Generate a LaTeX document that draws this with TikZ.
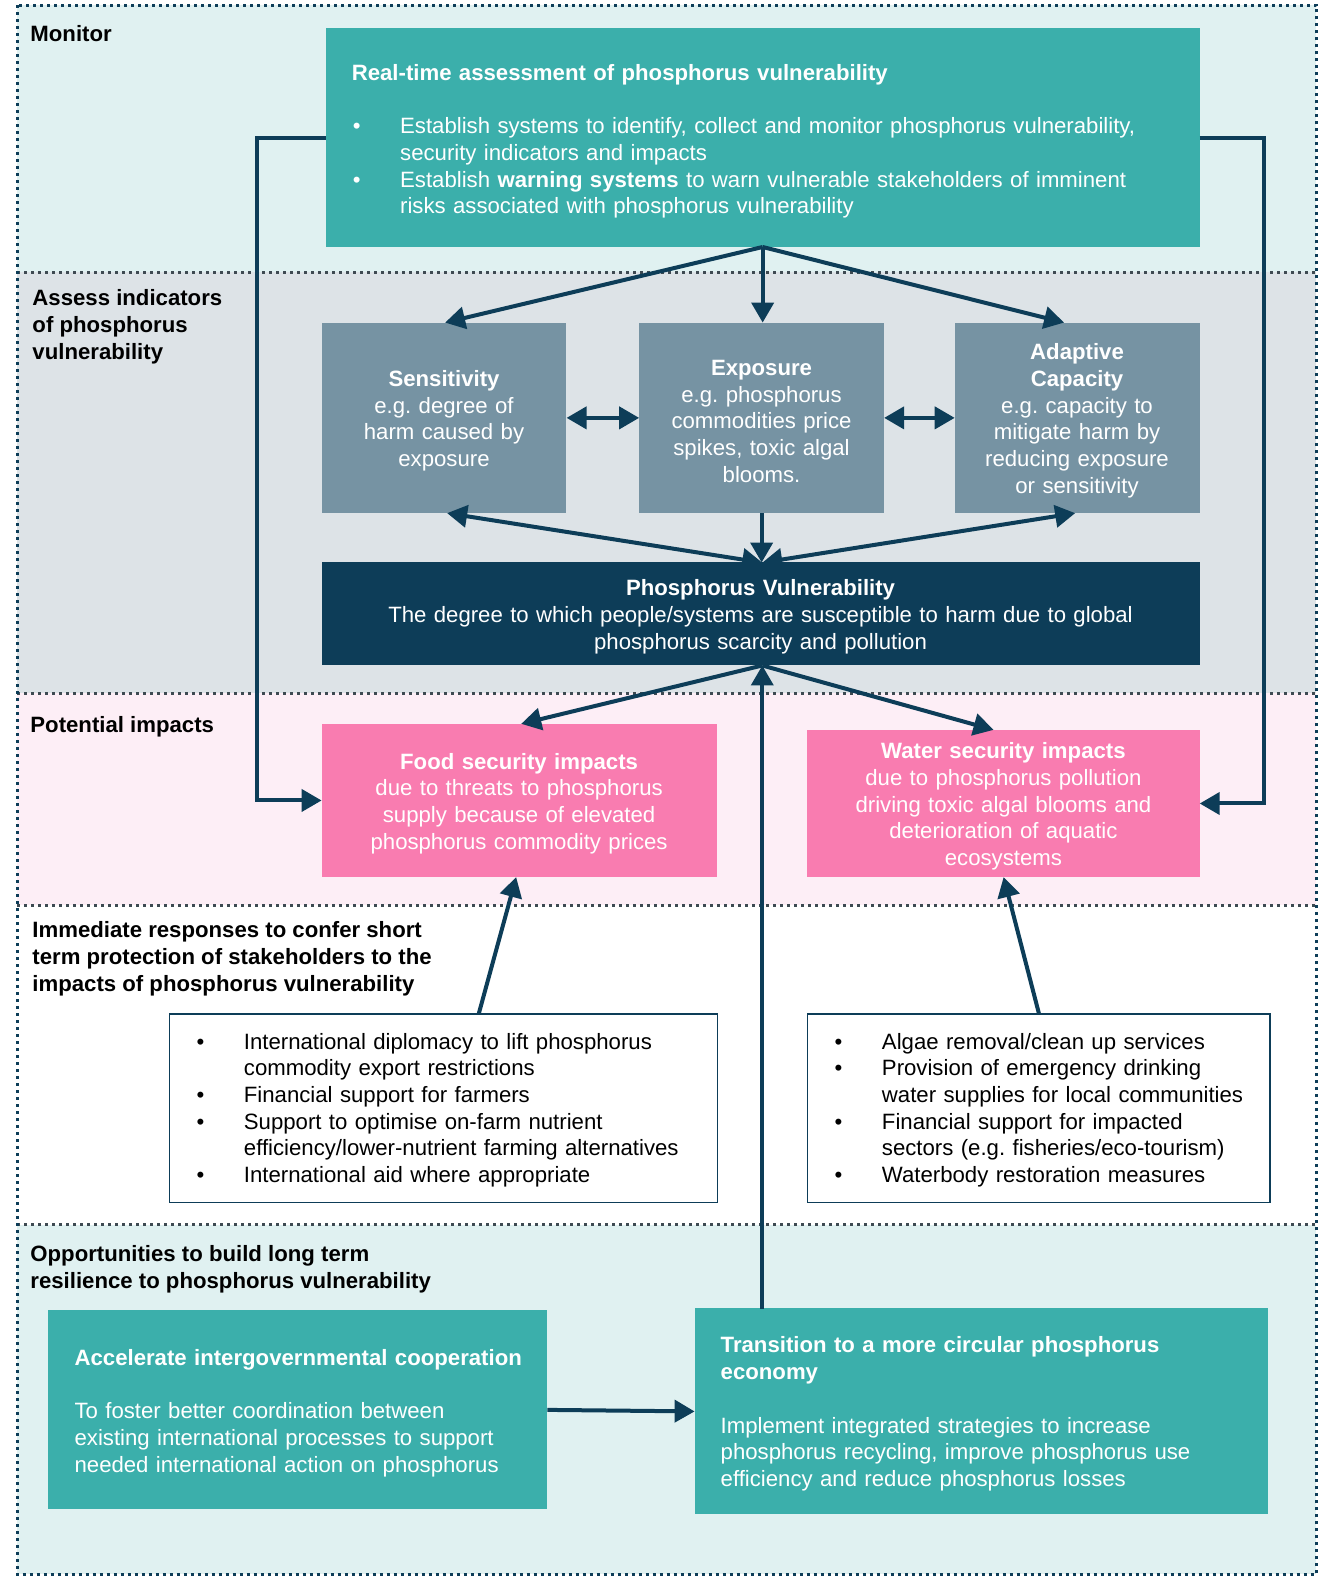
\documentclass[tikz,border=0pt]{standalone}
\usepackage{fontspec}
\setmainfont{Liberation Sans}
\usetikzlibrary{arrows.meta,calc}
\frenchspacing
\definecolor{cTeal}{HTML}{3BAFAB}
\definecolor{cBgCyan}{HTML}{E0F1F1}
\definecolor{cBgGray}{HTML}{DDE3E7}
\definecolor{cBgPink}{HTML}{FDEEF6}
\definecolor{cSlate}{HTML}{7693A3}
\definecolor{cNavy}{HTML}{0D3D58}
\definecolor{cPink}{HTML}{F97CB0}
\definecolor{cSep}{HTML}{3E4A52}
\newcommand{\bul}[1]{\par\noindent\makebox[48pt][l]{\hspace{1pt}•}\mbox{#1}}
\newcommand{\cont}[1]{\par\noindent\hspace*{48pt}\mbox{#1}}
\newcommand{\plainline}[1]{\par\noindent\mbox{#1}}
\newcommand{\topstrut}{\rule{0pt}{22pt}}
\begin{document}
\begin{tikzpicture}[x=1pt,y=-1pt,scale=1.008,every node/.append style={transform shape},
  txt/.style={font=\fontsize{22}{26.5}\selectfont\frenchspacing},
  band/.style={font=\fontsize{22}{26.5}\selectfont\bfseries,text=black,inner sep=0pt,align=left},
  boxbase/.style={txt,inner sep=0pt,outer sep=0pt,text=white},
  tealbox/.style={boxbase,fill=cTeal,align=left},
  slatebox/.style={boxbase,fill=cSlate,align=center,minimum width=243pt,minimum height=189pt,text width=235pt},
  pinkbox/.style={boxbase,fill=cPink,align=center},
  respbox/.style={txt,draw=cNavy,line width=1.6pt,fill=white,text=black,inner sep=0pt,align=left},
  arr/.style={draw=cNavy,line width=4pt,-{Triangle[length=20pt,width=22pt]}},
  darr/.style={draw=cNavy,line width=4pt,{Triangle[length=20pt,width=22pt]}-{Triangle[length=20pt,width=22pt]}},
  frameline/.style={draw=cNavy,line width=3pt,dash pattern=on 3pt off 4pt},
  sepline/.style={draw=cSep,line width=3pt,dash pattern=on 3pt off 4pt}
]
\useasboundingbox (0,0) rectangle (1314.5,1568.5);
\fill[white] (0,0) rectangle (1314.5,1568.5);
% bands
\fill[cBgCyan] (17,5) rectangle (1306,270);
\fill[cBgGray] (17,270) rectangle (1306,688);
\fill[cBgPink] (17,688) rectangle (1306,898);
\fill[white] (17,898) rectangle (1306,1215);
\fill[cBgCyan] (17,1215) rectangle (1306,1562);
\draw[sepline] (17,270) -- (1306,270);
\draw[sepline] (17,688) -- (1306,688);
\draw[sepline] (17,898) -- (1306,898);
\draw[sepline] (17,1215) -- (1306,1215);
\draw[frameline] (17,5) rectangle (1306,1562);

% band labels
\node[band,anchor=west] (lmon) at (30,33.5) {Monitor};
\node[band,anchor=west] (lass) at (32,324) {Assess indicators\\of phosphorus\\vulnerability};
\node[band,anchor=west] (lpot) at (30,721) {Potential impacts};
\node[band,anchor=west] (limm) at (32,951) {Immediate responses to confer short\\term protection of stakeholders to the\\impacts of phosphorus vulnerability};
\node[band,anchor=west] (lopp) at (30,1259) {Opportunities to build long term\\resilience to phosphorus vulnerability};

% monitor box
\node[tealbox,minimum width=867pt,minimum height=217pt,text width=815pt] (rt) at (756.5,136.5)
{\vspace*{-3pt}\plainline{\textbf{Real-time assessment of phosphorus vulnerability}}\par\vspace{26.5pt}%
\bul{Establish systems to identify, collect and monitor phosphorus vulnerability,}%
\cont{security indicators and impacts}%
\bul{Establish \textbf{warning systems} to warn vulnerable stakeholders of imminent}%
\cont{risks associated with phosphorus vulnerability}};

% indicator boxes
\node[slatebox] (sens) at (440.5,414.5) {\topstrut\textbf{Sensitivity}\\e.g. degree of\\harm caused by\\exposure};
\node[slatebox] (expo) at (755.5,414.5) {\topstrut\textbf{Exposure}\\e.g. phosphorus\\commodities price\\spikes, toxic algal\\blooms.};
\node[slatebox] (adap) at (1068.5,414.5) {\topstrut\textbf{Adaptive}\\\textbf{Capacity}\\e.g. capacity to\\mitigate harm by\\reducing exposure\\or sensitivity};

% PV box
\node[boxbase,fill=cNavy,align=center,minimum width=871pt,minimum height=102pt,text width=860pt] (pv) at (754.5,609)
{\topstrut\textbf{Phosphorus Vulnerability}\\The degree to which people/systems are susceptible to harm due to global\\phosphorus scarcity and pollution};

% impacts
\node[pinkbox,minimum width=392pt,minimum height=152pt,text width=385pt] (food) at (515,794)
{\topstrut\textbf{Food security impacts}\\due to threats to phosphorus\\supply because of elevated\\phosphorus commodity prices};
\node[pinkbox,minimum width=389pt,minimum height=146pt,text width=385pt] (water) at (995.5,797)
{\topstrut\textbf{Water security impacts}\\due to phosphorus pollution\\driving toxic algal blooms and\\deterioration of aquatic\\ecosystems};

% responses
\node[respbox,minimum width=544pt,minimum height=187pt,text width=492pt] (resp1) at (440,1099.5)
{\vspace*{-7pt}\bul{International diplomacy to lift phosphorus}%
\cont{commodity export restrictions}%
\bul{Financial support for farmers}%
\bul{Support to optimise on-farm nutrient}%
\cont{efficiency/lower-nutrient farming alternatives}%
\bul{International aid where appropriate}};
\node[respbox,minimum width=459pt,minimum height=187pt,text width=407pt] (resp2) at (1030.5,1099.5)
{\vspace*{-7pt}\bul{Algae removal/clean up services}%
\bul{Provision of emergency drinking}%
\cont{water supplies for local communities}%
\bul{Financial support for impacted}%
\cont{sectors (e.g. fisheries/eco-tourism)}%
\bul{Waterbody restoration measures}};

% opportunities
\node[tealbox,minimum width=495pt,minimum height=197pt,text width=443pt] (acc) at (295.5,1398.5)
{\vspace*{-4pt}\plainline{\textbf{Accelerate intergovernmental cooperation}}\par\vspace{26.5pt}%
\plainline{To foster better coordination between}%
\plainline{existing international processes to support}%
\plainline{needed international action on phosphorus}};
\node[tealbox,minimum width=569pt,minimum height=204pt,text width=517pt] (trans) at (973.5,1400)
{\vspace*{-5pt}\plainline{\textbf{Transition to a more circular phosphorus}}%
\plainline{\textbf{economy}}\par\vspace{26.5pt}%
\plainline{Implement integrated strategies to increase}%
\plainline{phosphorus recycling, improve phosphorus use}%
\plainline{efficiency and reduce phosphorus losses}};

% connectors
\coordinate (pvtop) at ($(pv.north)+(1.5,0)$);
\coordinate (pvbot) at ($(pv.south)+(1.5,0)$);
\draw[arr] (rt.west) -- ++(-68,0) |- (food.west);
\draw[arr] (rt.east) -- ++(64,0) |- (water.east);
\draw[arr] (rt.south) -- ($(sens.north)+(1,0)$);
\draw[arr] (rt.south) -- (rt.south |- expo.north);
\draw[arr] (rt.south) -- ($(adap.north)+(-13,0)$);
\draw[darr] (sens.east) -- (expo.west);
\draw[darr] (expo.east) -- (adap.west);
\draw[darr] ($(sens.south)+(3,0)$) -- (pvtop);
\draw[darr] ($(adap.south)+(-2,0)$) -- (pvtop);
\draw[arr] (expo.south) -- (expo.south |- pv.north);
\draw[arr] (pvbot) -- ($(food.north)+(2,0)$);
\draw[arr] (pvbot) -- ($(water.north)+(-10,0)$);
\draw[arr] ($(resp1.north)+(35,0)$) -- ($(food.south)+(-3,0)$);
\draw[arr] (resp2.north) -- (water.south);
\draw[arr] (pvbot |- trans.north) -- (pvbot);
\draw[arr] (acc.east) -- (trans.west);
\end{tikzpicture}
\end{document}
